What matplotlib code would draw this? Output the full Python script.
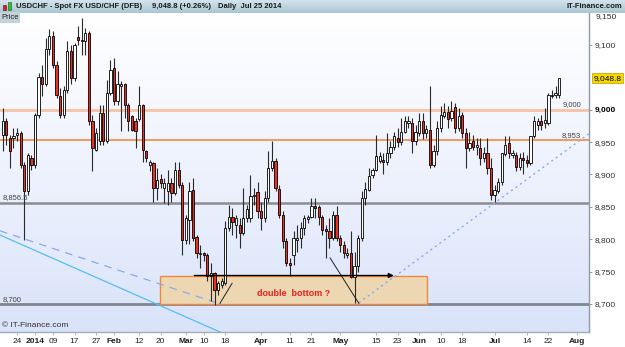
import numpy as np
import pandas as pd
import matplotlib
matplotlib.use('Agg')
from matplotlib import pyplot as plt
from matplotlib.patches import Rectangle
from matplotlib.colors import LinearSegmentedColormap
import matplotlib.transforms as mtransforms

plt.rcParams['font.family'] = ['Liberation Sans', 'DejaVu Sans']

### ******************
###     data
### ******************
# daily USDCHF candles (x10000), Dec 18 2013 .. Jul 25 2014
opens = [8961, 8982, 8956, 8956, 8961, 8964, 8915, 8874, 8925, 8915,
         8992, 9051, 9039, 9093, 9113, 9069, 9021, 8992, 9031, 9090,
         9049, 9112, 9106, 9106, 9118, 8982, 8938, 8951, 8995, 8951,
         9026, 9064, 9013, 9036, 9039, 9007, 8990, 8982, 8985, 9007,
         8936, 8915, 8918, 8879, 8893, 8879, 8874, 8887, 8871, 8907,
         8884, 8799, 8830, 8876, 8803, 8777, 8779, 8775, 8743, 8748,
         8722, 8730, 8732, 8818, 8835, 8822, 8822, 8809, 8833, 8833,
         8866, 8873, 8843, 8833, 8864, 8910, 8921, 8878, 8838, 8797,
         8763, 8776, 8799, 8802, 8817, 8831, 8834, 8851, 8849, 8834,
         8816, 8812, 8802, 8837, 8802, 8791, 8776, 8778, 8742, 8758,
         8802, 8864, 8876, 8899, 8907, 8921, 8923, 8920, 8933, 8943,
         8957, 8950, 8966, 8979, 8979, 8951, 8964, 8983, 8964, 8969,
         8915, 8936, 8972, 8991, 8997, 8987, 9004, 8972, 8992, 8964,
         8941, 8951, 8943, 8941, 8925, 8933, 8910, 8869, 8875, 8889,
         8932, 8948, 8930, 8930, 8912, 8925, 8923, 8918, 8959, 8977,
         8982, 8979, 8979, 9021, 9023, 9023]
highs = [9003, 8987, 8961, 8972, 8972, 8967, 8920, 8933, 8930, 8995,
         9057, 9069, 9111, 9124, 9121, 9075, 9033, 9036, 9106, 9100,
         9103, 9129, 9141, 9126, 9121, 8992, 8972, 9008, 9008, 9046,
         9077, 9080, 9059, 9044, 9041, 9010, 8992, 8987, 9036, 9009,
         8938, 8923, 8920, 8910, 8900, 8894, 8907, 8894, 8920, 8920,
         8889, 8838, 8889, 8894, 8807, 8791, 8781, 8779, 8763, 8750,
         8735, 8740, 8828, 8853, 8848, 8838, 8833, 8879, 8853, 8899,
         8879, 8889, 8858, 8874, 8936, 8951, 8925, 8884, 8843, 8802,
         8771, 8812, 8822, 8827, 8838, 8838, 8864, 8864, 8853, 8838,
         8822, 8833, 8843, 8851, 8807, 8797, 8786, 8812, 8781, 8807,
         8874, 8889, 8910, 8910, 8961, 8935, 8933, 8964, 8951, 8966,
         8972, 8987, 8990, 8990, 8987, 8977, 8995, 8995, 8977, 9036,
         8946, 8982, 9005, 9010, 9005, 9013, 9010, 9003, 8997, 8972,
         8966, 8961, 8956, 8956, 8943, 8956, 8925, 8884, 8894, 8933,
         8959, 8959, 8938, 8935, 8933, 8935, 8930, 8959, 8990, 8987,
         8992, 9003, 9026, 9031, 9036, 9049]
lows = [8936, 8946, 8910, 8941, 8951, 8910, 8799, 8869, 8907, 8910,
        8987, 9021, 9036, 9085, 9064, 9018, 8987, 8987, 9026, 9039,
        9044, 9100, 9085, 9085, 8977, 8905, 8936, 8946, 8946, 8948,
        9023, 9008, 9008, 8967, 8987, 8967, 8967, 8941, 8982, 8920,
        8920, 8905, 8858, 8861, 8879, 8856, 8853, 8858, 8869, 8879,
        8776, 8792, 8792, 8797, 8771, 8755, 8766, 8735, 8704, 8699,
        8714, 8725, 8730, 8812, 8807, 8802, 8786, 8807, 8827, 8827,
        8853, 8833, 8815, 8827, 8858, 8905, 8874, 8833, 8786, 8758,
        8743, 8761, 8781, 8786, 8807, 8825, 8833, 8833, 8822, 8807,
        8771, 8786, 8799, 8797, 8781, 8771, 8771, 8740, 8701, 8750,
        8797, 8853, 8874, 8895, 8905, 8918, 8900, 8915, 8925, 8938,
        8943, 8946, 8964, 8972, 8933, 8946, 8959, 8954, 8956, 8910,
        8912, 8930, 8966, 8987, 8972, 8982, 8964, 8967, 8956, 8910,
        8936, 8938, 8930, 8915, 8920, 8900, 8861, 8858, 8871, 8884,
        8928, 8925, 8925, 8905, 8907, 8900, 8912, 8915, 8956, 8969,
        8969, 8972, 8977, 9018, 9018, 9018]
closes = [8982, 8961, 8936, 8959, 8964, 8915, 8874, 8930, 8915, 8992,
          9051, 9039, 9093, 9113, 9069, 9023, 8992, 9031, 9090, 9049,
          9100, 9107, 9108, 9118, 8982, 8941, 8964, 8995, 8951, 9026,
          9062, 9013, 9039, 9039, 9008, 8982, 8969, 8967, 9007, 8938,
          8926, 8919, 8879, 8892, 8887, 8887, 8887, 8871, 8907, 8884,
          8799, 8833, 8874, 8802, 8779, 8779, 8775, 8743, 8748, 8722,
          8732, 8735, 8818, 8835, 8827, 8833, 8809, 8833, 8846, 8866,
          8869, 8843, 8833, 8864, 8910, 8921, 8879, 8838, 8797, 8763,
          8760, 8802, 8802, 8817, 8833, 8834, 8851, 8848, 8834, 8815,
          8812, 8802, 8837, 8802, 8791, 8778, 8778, 8742, 8758, 8802,
          8864, 8878, 8897, 8907, 8928, 8929, 8920, 8933, 8943, 8959,
          8950, 8966, 8982, 8982, 8951, 8966, 8983, 8964, 8970, 8915,
          8936, 8972, 8992, 8997, 8985, 8998, 8972, 8991, 8964, 8941,
          8948, 8943, 8946, 8926, 8933, 8910, 8869, 8876, 8889, 8933,
          8945, 8933, 8933, 8912, 8925, 8923, 8918, 8959, 8982, 8982,
          8977, 8984, 9023, 9023, 9026, 9048.8]

last_date = '2014-07-25'
holidays = ['2013-12-25', '2014-01-01']

# horizontal levels
level_9000 = 9000
level_8953 = 8953
level_8856 = 8856.5
level_8700 = 8700

# hand drawn trend lines (trading-day index, price)
dashed_x, dashed_y = [-0.75, 59.7], [8813, 8701.6]
solid_x, solid_y = [-0.75, 62.5], [8806.5, 8652]
dotted_x, dotted_y = [99.2, 163.3], [8701.9, 8963]
v1_x, v1_y = [60.5, 63.9], [8701, 8732]
v2_x, v2_y = [91.2, 99.2], [8771, 8701]
box_x, box_y = [43.9, 118.1], [8700, 8744]
arrow_x = [52.6, 109.7]

tick_dates = ['2013-12-24', '2014-01-02', '2014-01-09', '2014-01-17', '2014-01-27',
              '2014-02-03', '2014-02-12', '2014-02-20', '2014-03-03', '2014-03-10',
              '2014-03-18', '2014-04-01', '2014-04-11', '2014-04-21', '2014-05-01',
              '2014-05-15', '2014-05-23', '2014-06-02', '2014-06-10', '2014-06-18',
              '2014-07-01', '2014-07-14', '2014-07-22', '2014-08-01']
tick_text = ['24', '2014', '09', '17', '27', 'Feb', '12', '20', 'Mar', '10', '18',
             'Apr', '11', '21', 'May', '15', '23', 'Jun', '10', '18', 'Jul', '14',
             '22', 'Aug']
bold_ticks = {'2014', 'Feb', 'Mar', 'Apr', 'May', 'Jun', 'Jul', 'Aug'}

# 9,050 is hidden behind the current price flag
price_ticks = [8700, 8750, 8800, 8850, 8900, 8950, 9000, 9100]

### ******************
###    plotting
### ******************
W, H = 625, 347
fig = plt.figure(figsize=(W / 100, H / 100), dpi=100)
fig.patch.set_facecolor('white')

def fx(px): return px / W
def fy(py): return 1 - py / H

days = pd.bdate_range('2013-12-01', '2014-08-15')
days = days[~days.isin(pd.to_datetime(holidays))]
N = len(closes)
first = days.get_loc(pd.Timestamp(last_date)) - N + 1
def xpos(d):
    return days.get_loc(pd.Timestamp(d)) - first

x0, x1 = -0.75, 163.3
y0, y1 = 8656.8, 9148.8

ax = fig.add_axes([0, fy(332), fx(589), (332 - 13.3) / H])
ax.set_xlim(x0, x1)
ax.set_ylim(y0, y1)

bg = LinearSegmentedColormap.from_list('bg', ['#ffffff', '#eef2fd', '#d9e3f9'])
ax.imshow(np.linspace(0, 1, 256).reshape(-1, 1), cmap=bg, aspect='auto',
          extent=[x0, x1, y0, y1], zorder=0)

# levels
ax.axhline(level_9000, color='#f7c2a4', lw=2.0, zorder=1)
ax.axhline(level_8953, color='#f28a3c', lw=1.2, zorder=1)
ax.axhline(level_8856, color='#8a8c90', lw=1.8, zorder=1)
ax.axhline(level_8700, color='#80868e', lw=2.0, zorder=1)

lbl = dict(fontsize=5.5, color='#404040', va='bottom')
ax.text(x1 - 2.2, level_9000 + 2, '9,000', ha='right', **lbl)
ax.text(x1 - 2.2, level_8953 + 1.5, '8,953', ha='right', **lbl)
ax.text(x0 + 0.8, level_8856 + 2, '8,856.5', ha='left', **lbl)
ax.text(x0 + 0.8, level_8700 + 2, '8,700', ha='left', **lbl)

# double bottom box
ax.add_patch(Rectangle((box_x[0], box_y[0]), box_x[1] - box_x[0], box_y[1] - box_y[0],
                       facecolor='#ecd7b2', edgecolor='#ee8840', lw=1.0, zorder=1.5))

# trend lines
ax.plot(dashed_x, dashed_y, color='#8aa8ee', lw=0.9, ls=(0, (6, 5)), zorder=1.6)
ax.plot(solid_x, solid_y, color='#55c0ee', lw=0.9, zorder=1.6)
ax.plot(dotted_x, dotted_y, color='#8aa8ee', lw=1.0, ls=(0, (1.5, 2.5)), zorder=1.6)

# candles
xs = np.arange(N)
o = np.array(opens, float)
c = np.array(closes, float)
up = c >= o
ax.vlines(xs, lows, highs, color='#2a2a2a', lw=0.8, zorder=2)
body_h = np.maximum(np.abs(c - o), 0.8)
ax.bar(xs, body_h, bottom=np.minimum(o, c), width=0.62,
       color=np.where(up, 'white', '#ec3026'), edgecolor='black', lw=0.6, zorder=3)

# V marks + arrow
ax.plot(v1_x, v1_y, color='#202020', lw=0.7, zorder=4)
ax.plot(v2_x, v2_y, color='#202020', lw=0.7, zorder=4)
ax.annotate('', xy=(arrow_x[1], box_y[1]), xytext=(arrow_x[0], box_y[1]),
            arrowprops=dict(arrowstyle='-|>', color='black', lw=1.0, mutation_scale=7),
            zorder=5)
ax.text((box_x[0] + box_x[1]) / 2, 8717, 'double  bottom ?', color='#e8201c',
        fontsize=6.5, fontweight='bold', ha='center', va='center', zorder=5)

ax.text(x0 + 0.6, y0 + 5, '\u00a9 IT-Finance.com', fontsize=6, color='#303030',
        ha='left', va='bottom')

# axes styling
for s in ['left', 'top']:
    ax.spines[s].set_visible(False)
ax.spines['right'].set_color('#8c9cac')
ax.spines['right'].set_linewidth(1.0)
ax.spines['bottom'].set_color('#a4acb4')
ax.spines['bottom'].set_linewidth(1.0)

ax.yaxis.tick_right()
ax.set_yticks(price_ticks)
ax.set_yticklabels([f'{v:,}' for v in price_ticks])
ax.tick_params(axis='y', direction='out', length=2.5, width=0.6, pad=1.5,
               labelsize=6, colors='#808890', labelcolor='#303030')
for t in ax.get_yticklabels():
    if t.get_text() == '9,000':
        t.set_fontweight('bold')
        t.set_color('black')

ax.set_xticks([xpos(d) for d in tick_dates])
ax.set_xticklabels(tick_text)
ax.tick_params(axis='x', direction='out', length=2.5, width=0.6, pad=1.5,
               labelsize=6, colors='#a0a8b0', labelcolor='#202020')
for t in ax.get_xticklabels():
    if t.get_text() in bold_ticks:
        t.set_fontweight('bold')

# current price flag and top label
ytr = mtransforms.blended_transform_factory(ax.transAxes, ax.transData)
ax.text(1.008, closes[-1], f'{closes[-1]:,.1f}', transform=ytr, fontsize=6,
        ha='left', va='center', color='black', clip_on=False,
        bbox=dict(boxstyle='square,pad=0.2', fc='#f6d800', ec='#b89a00', lw=0.5))
fig.text(fx(596), fy(16.5), '9,150', fontsize=6, color='#303030', ha='left', va='center')

# header bar
hax = fig.add_axes([0, fy(13.3), 1, 13.3 / H])
hax.set_axis_off()
hax.set_xlim(0, W)
hax.set_ylim(13.3, 0)
hdr = LinearSegmentedColormap.from_list('hdr', ['#d6e6ee', '#aac6d3'])
hax.imshow(np.linspace(0, 1, 64).reshape(-1, 1), cmap=hdr, aspect='auto',
           extent=[0, W, 13.3, 0])
hax.add_patch(Rectangle((3, 5), 3, 5, fc='#e02020', ec='#600000', lw=0.4))
hax.add_patch(Rectangle((8, 2), 3, 8, fc='#30c030', ec='#106010', lw=0.4))
hdr_font = dict(fontsize=5.5, fontweight='bold', color='#1a1a1a', va='center')
hax.text(16, 6.8, 'USDCHF - Spot FX USD/CHF (DFB)', ha='left', **hdr_font)
hax.text(152, 6.8, '9,048.8 (+0.26%)', ha='left', **hdr_font)
hax.text(218, 6.8, 'Daily  Jul 25 2014', ha='left', **hdr_font)
hax.text(622, 6.8, 'IT-Finance.com', ha='right', **hdr_font)

# "Price" tag
fig.text(fx(1), fy(17.5), 'Price', fontsize=5.5, color='#202020', ha='left', va='center',
         bbox=dict(boxstyle='square,pad=0.2', fc='#c4d2da', ec='none'))

fig.savefig('out.png', dpi=100)
